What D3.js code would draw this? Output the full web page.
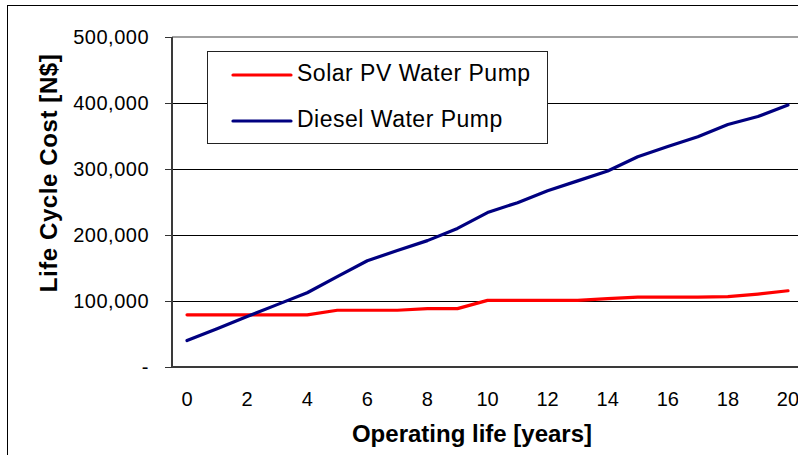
<!DOCTYPE html>
<html>
<head>
<meta charset="utf-8">
<script src="https://cdn.jsdelivr.net/npm/d3@7"></script>
<style>
  body { margin: 0; background: #fff; }
  svg { display: block; font-family: "Liberation Sans", Arial, sans-serif; }
</style>
</head>
<body>
<div id="chart"></div>
<script>
// years of operation (categories)
const years = [0, 1, 2, 3, 4, 5, 6, 7, 8, 9, 10, 11, 12, 13, 14, 15, 16, 17, 18, 19, 20];
const yearTicks = [0, 2, 4, 6, 8, 10, 12, 14, 16, 18, 20];
// life cycle cost in N$
const solarPV = [79000, 79000, 79000, 79000, 79000, 86000, 86000, 86000, 88500, 88500, 101000,
  101000, 101000, 101000, 103500, 106000, 106000, 106000, 106500, 110500, 115500];
const diesel = [40000, 58000, 76500, 94500, 112500, 137000, 161000, 176500, 191500, 210000, 234000,
  249000, 267000, 282000, 297000, 318500, 334000, 349000, 367500, 379500, 397000];
const costTicks = [0, 100000, 200000, 300000, 400000, 500000];
const seriesNames = ["Solar PV Water Pump", "Diesel Water Pump"];
const seriesColors = ["#ff0000", "#000080"];

const width = 798, height = 455;
const margin = { top: 37, right: -5, bottom: 88, left: 172 };

const svg = d3.select("#chart").append("svg")
  .attr("width", width)
  .attr("height", height);

// outer chart frame (only top and left edge fall inside the picture)
svg.append("rect")
  .attr("x", 7.5).attr("y", 5.5)
  .attr("width", 900).attr("height", 600)
  .attr("fill", "none").attr("stroke", "#000").attr("stroke-width", 1);

const x = d3.scaleBand()
  .domain(years)
  .range([margin.left, width - margin.right]);

const y = d3.scaleLinear()
  .domain([0, 500000])
  .range([height - margin.bottom, margin.top]);

const cx = (d) => x(d) + x.bandwidth() / 2;

// gridlines
svg.append("g")
  .selectAll("line")
  .data(costTicks.slice(1, -1))
  .join("line")
  .attr("x1", margin.left).attr("x2", width - margin.right)
  .attr("y1", (d) => Math.round(y(d)) + 0.5).attr("y2", (d) => Math.round(y(d)) + 0.5)
  .attr("stroke", "#000").attr("stroke-width", 1);

// plot area top border
svg.append("line")
  .attr("x1", margin.left).attr("x2", width - margin.right)
  .attr("y1", y(500000)).attr("y2", y(500000))
  .attr("stroke", "#a0a0a0").attr("stroke-width", 2);

// y axis
const yAxis = d3.axisLeft(y)
  .tickValues(costTicks)
  .tickSize(7)
  .tickPadding(16)
  .tickFormat((d) => (d === 0 ? "-" : d3.format(",")(d)));

const yAxisGroup = svg.append("g")
  .attr("transform", `translate(${margin.left},0)`)
  .call(yAxis);
yAxisGroup.select(".domain").remove();
yAxisGroup.selectAll(".tick line").attr("stroke", "#333");
yAxisGroup.selectAll("text")
  .style("font-size", "20px")
  .style("letter-spacing", "0.5px")
  .attr("fill", "#000");
yAxisGroup.append("line")
  .attr("x1", 0).attr("x2", 0)
  .attr("y1", y(500000)).attr("y2", y(0))
  .attr("stroke", "#3a3a3a").attr("stroke-width", 2);

// x axis
const xAxis = d3.axisBottom(x)
  .tickValues(yearTicks)
  .tickSize(0)
  .tickPadding(25);

const xAxisGroup = svg.append("g")
  .attr("transform", `translate(0,${y(0)})`)
  .call(xAxis);
xAxisGroup.select(".domain").remove();
xAxisGroup.selectAll("text")
  .style("font-size", "20px")
  .attr("fill", "#000");
xAxisGroup.append("line")
  .attr("x1", margin.left).attr("x2", width - margin.right)
  .attr("y1", 0).attr("y2", 0)
  .attr("stroke", "#3a3a3a").attr("stroke-width", 2);

// series lines
const line = d3.line()
  .x((d, i) => cx(years[i]))
  .y((d) => y(d));

[solarPV, diesel].forEach((values, i) => {
  svg.append("path")
    .datum(values)
    .attr("fill", "none")
    .attr("stroke", seriesColors[i])
    .attr("stroke-width", 3.2)
    .attr("stroke-linejoin", "round")
    .attr("stroke-linecap", "round")
    .attr("d", line);
});

// axis titles
svg.append("text")
  .attr("transform", "translate(57,173) rotate(-90)")
  .attr("text-anchor", "middle")
  .style("font-size", "24px")
  .style("font-weight", "bold")
  .style("letter-spacing", "0.6px")
  .text("Life Cycle Cost [N$]");

svg.append("text")
  .attr("x", 472)
  .attr("y", 442)
  .attr("text-anchor", "middle")
  .style("font-size", "24px")
  .style("font-weight", "bold")
  .text("Operating life [years]");

// legend
const legend = svg.append("g");
legend.append("rect")
  .attr("x", 207.5).attr("y", 51.5)
  .attr("width", 340).attr("height", 92)
  .attr("fill", "#fff").attr("stroke", "#222").attr("stroke-width", 1);

const legendItems = legend.selectAll(".item")
  .data(seriesNames)
  .join("g")
  .attr("class", "item")
  .attr("transform", (d, i) => `translate(0,${75 + i * 46})`);

legendItems.append("line")
  .attr("x1", 233).attr("x2", 291)
  .attr("stroke", (d, i) => seriesColors[i])
  .attr("stroke-width", 3.2)
  .attr("stroke-linecap", "round");

legendItems.append("text")
  .attr("x", 297)
  .attr("y", 6)
  .style("font-size", "23px")
  .style("letter-spacing", "0.5px")
  .text((d) => d);
</script>
</body>
</html>
